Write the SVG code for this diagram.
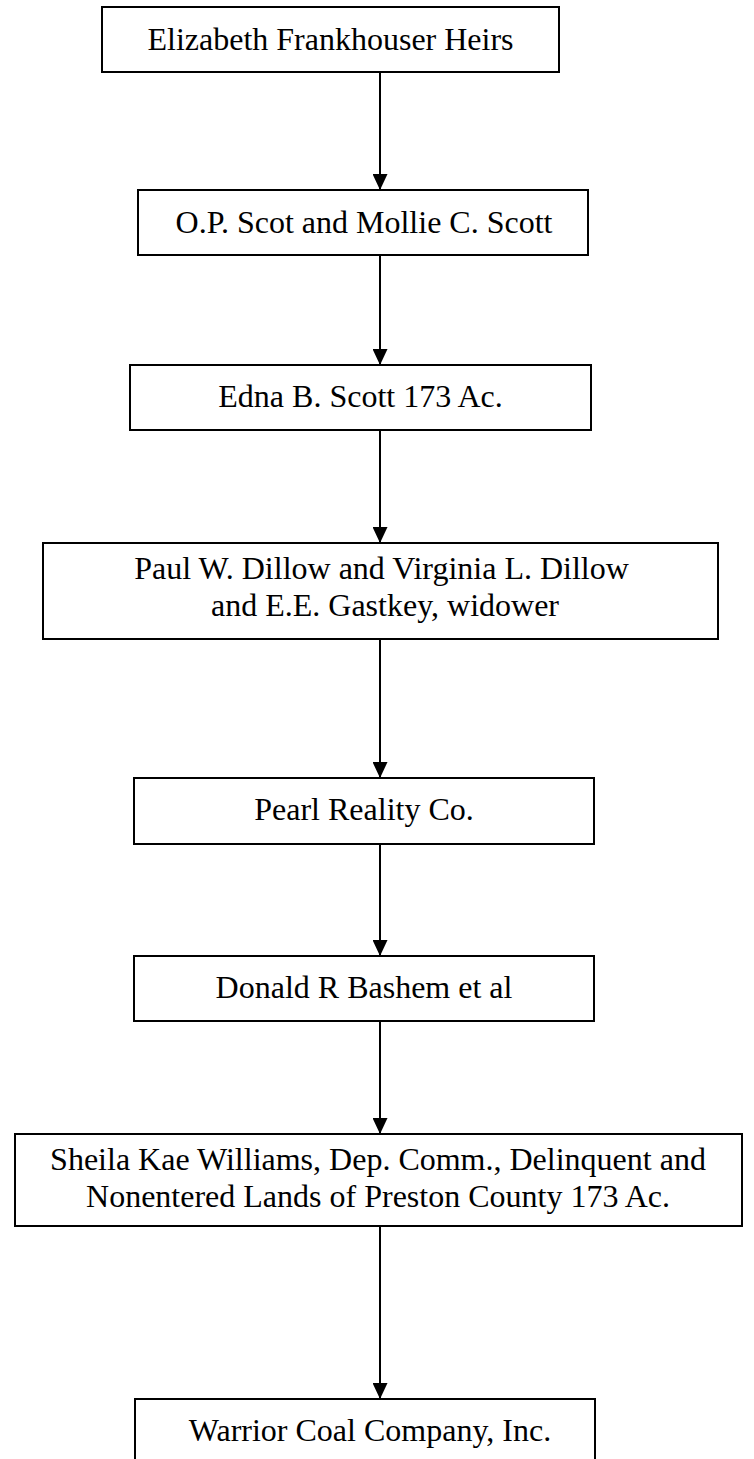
<svg xmlns="http://www.w3.org/2000/svg" width="754" height="1459" viewBox="0 0 754 1459">
  <defs>
    <marker id="arrow" markerWidth="16" markerHeight="15" refX="16" refY="7.5" orient="auto" markerUnits="userSpaceOnUse">
      <path d="M0,0 L16,7.5 L0,15 Z" fill="#000"/>
    </marker>
  </defs>
  <style>
    .box { fill: #fff; stroke: #000; stroke-width: 2; }
    .label { font-family: "Liberation Serif", "Times New Roman", serif; font-size: 32px; fill: #000; text-anchor: middle; }
    .link { stroke: #000; stroke-width: 2; fill: none; marker-end: url(#arrow); }
  </style>

  <!-- connectors: one vertical arrow between each pair of boxes -->
  <g id="connectors">
    <line class="link" x1="380" y1="72" x2="380" y2="190"/>
    <line class="link" x1="380" y1="255" x2="380" y2="365"/>
    <line class="link" x1="380" y1="430" x2="380" y2="543"/>
    <line class="link" x1="380" y1="639" x2="380" y2="778"/>
    <line class="link" x1="380" y1="844" x2="380" y2="956"/>
    <line class="link" x1="380" y1="1021" x2="380" y2="1134"/>
    <line class="link" x1="380" y1="1226" x2="380" y2="1399"/>
  </g>

  <!-- chain of title, oldest at top -->
  <g id="n1">
    <rect class="box" x="102" y="7" width="457" height="65"/>
    <text class="label" x="330.5" y="50">Elizabeth Frankhouser Heirs</text>
  </g>
  <g id="n2">
    <rect class="box" x="138" y="190" width="450" height="65"/>
    <text class="label" x="364" y="233">O.P. Scot and Mollie C. Scott</text>
  </g>
  <g id="n3">
    <rect class="box" x="130" y="365" width="461" height="65"/>
    <text class="label" x="360.5" y="407">Edna B. Scott 173 Ac.</text>
  </g>
  <g id="n4">
    <rect class="box" x="43" y="543" width="675" height="96"/>
    <text class="label" x="381.5" y="579">Paul W. Dillow and Virginia L. Dillow</text>
    <text class="label" x="385" y="616">and E.E. Gastkey, widower</text>
  </g>
  <g id="n5">
    <rect class="box" x="134" y="778" width="460" height="66"/>
    <text class="label" x="364" y="820">Pearl Reality Co.</text>
  </g>
  <g id="n6">
    <rect class="box" x="134" y="956" width="460" height="65"/>
    <text class="label" x="364" y="998">Donald R Bashem et al</text>
  </g>
  <g id="n7">
    <rect class="box" x="15" y="1134" width="727" height="92"/>
    <text class="label" x="378" y="1170">Sheila Kae Williams, Dep. Comm., Delinquent and</text>
    <text class="label" x="378" y="1207">Nonentered Lands of Preston County 173 Ac.</text>
  </g>
  <g id="n8">
    <rect class="box" x="135" y="1399" width="460" height="80"/>
    <text class="label" x="370" y="1441">Warrior Coal Company, Inc.</text>
  </g>
</svg>
